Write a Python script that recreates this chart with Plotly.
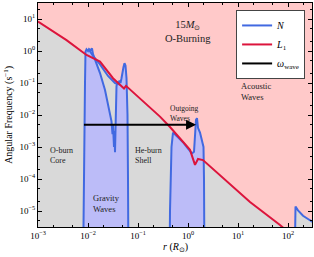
import numpy as np
import plotly.graph_objects as go

# ---- data (log10 r [R_sun], log10 frequency [s^-1]) ----
L1_logr = [-3.0, -2.98, -2.43, -2.03, -1.76, -1.5, -1.28, -1.24, -0.56, -0.36, 0.04, 0.14, 0.2, 0.3, 0.64, 1.24, 1.84, 2.0]
L1_logf = [0.92, 0.9, 0.34, -0.125, -0.33, -0.85, -1.17, -1.09, -2.05, -2.375, -3.09, -3.56, -3.375, -3.41, -3.875, -4.72, -5.44, -5.65]

N1_logr = [-2.10, -2.08, -2.06, -2.05, -2.03, -2.0, -1.98, -1.95, -1.92, -1.9, -1.84, -1.76, -1.66, -1.6, -1.56, -1.53,
           -1.51, -1.5, -1.48, -1.47, -1.46, -1.45, -1.44, -1.43, -1.41, -1.39, -1.37, -1.35, -1.33, -1.31, -1.29,
           -1.27, -1.25, -1.23, -1.21, -1.2, -1.19]
N1_logf = [-7.0, -3.0, -1.0, -0.02, 0.05, 0.0, 0.06, 0.02, 0.08, -0.1, -0.35, -0.69, -1.22, -1.7, -2.06, -2.2,
           -2.6, -2.3, -3.0, -2.5, -3.16, -2.4, -1.6, -1.1, -0.95, -1.05, -0.92, -1.0, -0.85, -0.6, -0.5,
           -0.38, -0.45, -0.85, -2.0, -4.0, -7.0]

Nb_logr = [-1.98, -1.9, -1.76, -1.6, -1.46, -1.36]
Nb_logf = [0.04, -0.15, -0.42, -0.78, -1.0, -1.05]

N2_logr = [-0.37, -0.36, -0.33, -0.3, -0.2, -0.1, 0.0, 0.08, 0.12, 0.14, 0.16, 0.18, 0.2, 0.24, 0.28, 0.31, 0.32, 0.33]
N2_logf = [-7.0, -5.0, -3.0, -2.55, -2.7, -2.85, -3.05, -3.2, -3.15, -2.6, -2.15, -2.1, -2.4, -2.55, -2.85, -3.0, -4.0, -7.0]

N3_logr = [2.13, 2.14, 2.15, 2.2, 2.3, 2.4, 2.5]
N3_logf = [-7.0, -4.9, -4.86, -4.98, -5.15, -5.25, -5.35]

wave_r = [0.0083, 1.2]
wave_f = [5e-3, 5e-3]
wave_tip_r = 1.45

xtick_exp = [-3, -2, -1, 0, 1, 2]
ytick_exp = [-5, -4, -3, -2, -1, 0, 1]

FLOOR = 1e-8

def lin(a):
    return [10 ** v for v in a]

L1_r, L1_f = lin(L1_logr), lin(L1_logf)
N1_r, N1_f = lin(N1_logr), lin(N1_logf)
Nb_r, Nb_f = lin(Nb_logr), lin(Nb_logf)
N2_r, N2_f = lin(N2_logr), lin(N2_logf)
N3_r, N3_f = lin(N3_logr), lin(N3_logf)

PINK = "#ffc9c9"
GRAY = "#d9d9d9"
BLUEFILL = "#bcbcf8"
BLUE = "#4169e1"
RED = "#dc143c"
SERIF = "Liberation Serif"

fig = go.Figure()

# gray region under L1
fig.add_trace(go.Scatter(x=L1_r + [L1_r[-1], L1_r[0]], y=L1_f + [FLOOR, FLOOR], fill="toself",
                         fillcolor=GRAY, line=dict(width=0), mode="lines", showlegend=False, hoverinfo="skip"))
# fills under N
for xr, yf, fc in [(N1_r, N1_f, BLUEFILL), (N2_r, N2_f, BLUEFILL), (N3_r, N3_f, GRAY)]:
    fig.add_trace(go.Scatter(x=xr + [xr[-1], xr[0]], y=yf + [FLOOR, FLOOR], fill="toself",
                             fillcolor=fc, line=dict(width=0), mode="lines", showlegend=False, hoverinfo="skip"))

# N lines
fig.add_trace(go.Scatter(x=N1_r, y=N1_f, mode="lines", line=dict(color=BLUE, width=2), name="<i>N</i>"))
for xr, yf in [(Nb_r, Nb_f), (N2_r, N2_f), (N3_r, N3_f)]:
    fig.add_trace(go.Scatter(x=xr, y=yf, mode="lines", line=dict(color=BLUE, width=2), showlegend=False))

# L1 line
fig.add_trace(go.Scatter(x=L1_r, y=L1_f, mode="lines", line=dict(color=RED, width=2), name="<i>L</i><sub>1</sub>"))

# wave line
fig.add_trace(go.Scatter(x=wave_r, y=wave_f, mode="lines", line=dict(color="black", width=2),
                         name="<i>ω</i><sub>wave</sub>"))

fig.add_annotation(x=np.log10(wave_tip_r), y=np.log10(wave_f[0]), ax=np.log10(wave_r[1] * 0.9), ay=np.log10(wave_f[0]),
                   xref="x", yref="y", axref="x", ayref="y", text="", showarrow=True,
                   arrowhead=2, arrowsize=1, arrowwidth=2, arrowcolor="black")

texts = [
    ("15<i>M</i><sub>⊙</sub><br>O-Burning", 0.0, 0.62, 10.5, "center"),
    ("Acoustic<br>Waves", 1.02, -1.28, 8.5, "left"),
    ("Outgoing<br>Waves", -0.4, -1.94, 7.5, "left"),
    ("O-burn<br>Core", -2.8, -3.28, 8, "left"),
    ("He-burn<br>Shell", -1.1, -3.28, 8, "left"),
    ("Gravity<br>Waves", -1.94, -4.75, 8.5, "left"),
]
for t, xx, yy, fs, al in texts:
    fig.add_annotation(x=xx, y=yy, xref="x", yref="y", text=t, showarrow=False, align=al,
                       xanchor=al, yanchor="middle", font=dict(family=SERIF, size=fs, color="#222"))

# axis titles
fig.add_annotation(x=0.5, y=-0.09, xref="paper", yref="paper", text="<i>r</i> (<i>R</i><sub>⊙</sub>)",
                   showarrow=False, xanchor="center", yanchor="middle",
                   font=dict(family=SERIF, size=10, color="black"))
fig.add_annotation(x=-0.11, y=0.5, xref="paper", yref="paper", text="Angular Frequency (s<sup>−1</sup>)",
                   showarrow=False, xanchor="center", yanchor="middle", textangle=-90,
                   font=dict(family=SERIF, size=10, color="black"))

axis_common = dict(type="log", showgrid=False, zeroline=False, automargin=False,
                   ticks="inside", ticklen=4, tickcolor="black", showline=True, linecolor="black",
                   linewidth=1, mirror="ticks",
                   minor=dict(ticks="inside", ticklen=2, tickcolor="black", showgrid=False),
                   tickfont=dict(family=SERIF, size=9, color="black"))

fig.update_xaxes(range=[-3, 2.48], tickvals=[10 ** e for e in xtick_exp],
                 ticktext=[f"10<sup>{e if e >= 0 else '−' + str(-e)}</sup>" for e in xtick_exp], **axis_common)
fig.update_yaxes(range=[-5.5, 1.5], tickvals=[10 ** e for e in ytick_exp],
                 ticktext=[f"10<sup>{e if e >= 0 else '−' + str(-e)}</sup>" for e in ytick_exp], **axis_common)

fig.update_layout(
    width=314, height=257,
    margin=dict(l=38, r=2, t=3, b=30),
    plot_bgcolor=PINK, paper_bgcolor="white",
    legend=dict(x=0.723, y=0.969, xanchor="left", yanchor="top", bgcolor="white",
                bordercolor="#444", borderwidth=1, font=dict(family=SERIF, size=10, color="black"),
                itemwidth=30, tracegroupgap=0),
    showlegend=True,
)

fig.write_html("out.html", config={"displayModeBar": False},
               post_script="document.body.style.margin='0';document.body.style.overflow='hidden';")
